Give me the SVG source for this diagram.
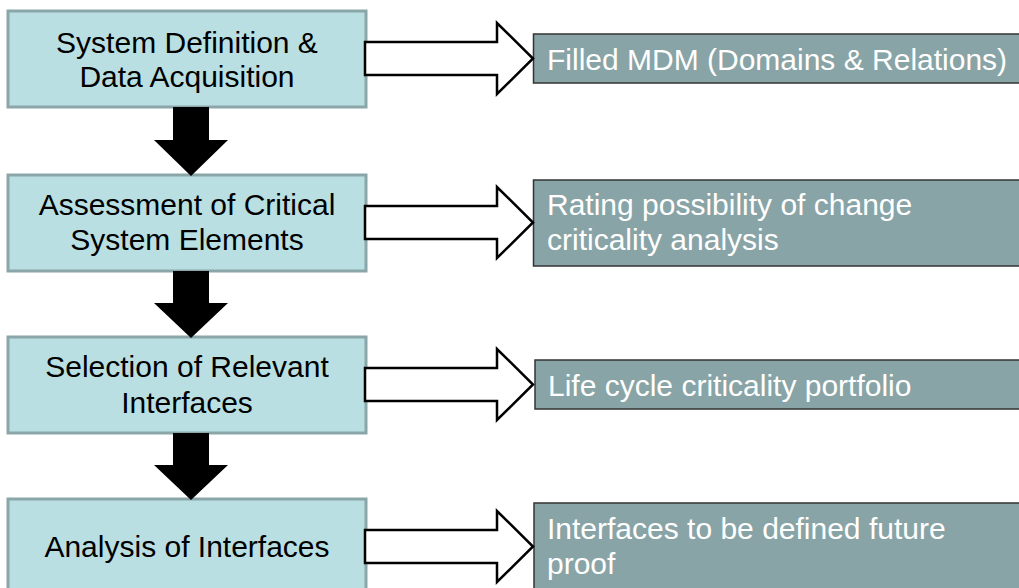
<svg xmlns="http://www.w3.org/2000/svg" width="1019" height="588" viewBox="0 0 1019 588">
<style>
.step{fill:#B9DFE2;stroke:#8BA6A8;stroke-width:3}
.out{fill:#89A4A6;stroke:#333333;stroke-width:1.5}
.st{font-family:"Liberation Sans",Arial,Helvetica,sans-serif;font-size:30px;fill:#000000;text-anchor:middle}
.ot{font-family:"Liberation Sans",Arial,Helvetica,sans-serif;font-size:30px;fill:#FFFFFF}
.down{fill:#000000}
.right{fill:#FFFFFF;stroke:#000000;stroke-width:2.5;stroke-linejoin:miter}
</style>
<rect width="1019" height="588" fill="#FFFFFF"/>
<g id="step1">
<rect class="step" x="8" y="11" width="358" height="96"/>
<text class="st" x="187" y="53">System Definition &amp;</text>
<text class="st" x="187" y="87">Data Acquisition</text>
</g>
<g id="step2">
<rect class="step" x="8" y="175" width="358" height="96"/>
<text class="st" x="187" y="215">Assessment of Critical</text>
<text class="st" x="187" y="250">System Elements</text>
</g>
<g id="step3">
<rect class="step" x="8" y="337" width="358" height="96"/>
<text class="st" x="187" y="377">Selection of Relevant</text>
<text class="st" x="187" y="413">Interfaces</text>
</g>
<g id="step4">
<rect class="step" x="8" y="499" width="358" height="96"/>
<text class="st" x="187" y="557">Analysis of Interfaces</text>
</g>
<g id="out1">
<rect class="out" x="533.5" y="34" width="500" height="49"/>
<text class="ot" x="547" y="70">Filled MDM (Domains &amp; Relations)</text>
</g>
<g id="out2">
<rect class="out" x="533.5" y="180" width="500" height="86"/>
<text class="ot" x="547" y="215">Rating possibility of change</text>
<text class="ot" x="547" y="250">criticality analysis</text>
</g>
<g id="out3">
<rect class="out" x="535" y="360" width="500" height="49"/>
<text class="ot" x="548" y="396">Life cycle criticality portfolio</text>
</g>
<g id="out4">
<rect class="out" x="534" y="503" width="500" height="86"/>
<text class="ot" x="547" y="539">Interfaces to be defined future</text>
<text class="ot" x="547" y="574">proof</text>
</g>
<g id="connectors">
<polygon class="down" points="173,107 209,107 209,140 228,140 191,176 154,140 173,140"/>
<polygon class="down" points="173,271 209,271 209,303 228,303 191,338 154,303 173,303"/>
<polygon class="down" points="173,433 209,433 209,465 228,465 191,500 154,465 173,465"/>
<polygon class="right" points="365,42 497,42 497,23 533,58.5 497,94 497,75 365,75"/>
<polygon class="right" points="365,206 497,206 497,187 533,222.5 497,258 497,239 365,239"/>
<polygon class="right" points="365,368 497,368 497,349 533,384.5 497,420 497,401 365,401"/>
<polygon class="right" points="365,530 497,530 497,511 533,546.5 497,582 497,563 365,563"/>
</g>
</svg>
